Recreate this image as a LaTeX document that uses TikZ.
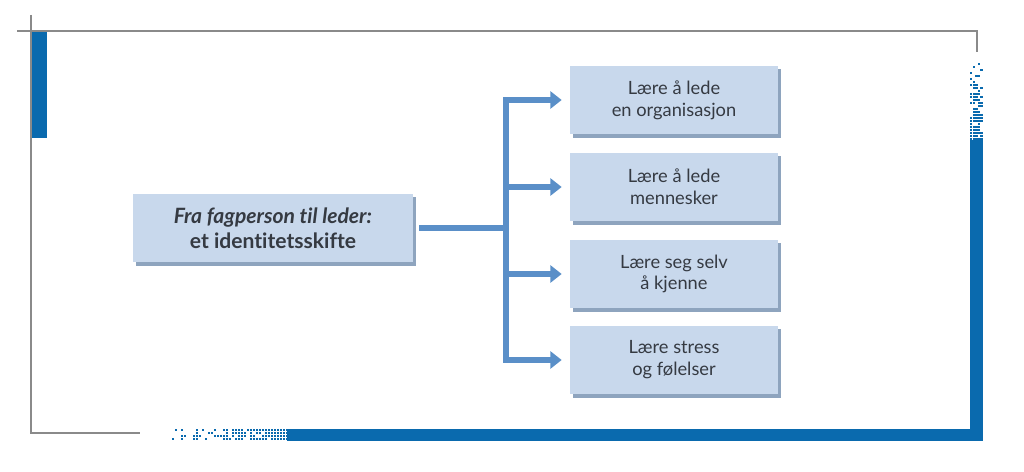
\documentclass[tikz,border=0pt]{standalone}
\usepackage{fontspec}
\setmainfont{Lato}[Ligatures=NoCommon]
\usetikzlibrary{arrows.meta,calc,shadows}
\definecolor{boxfill}{HTML}{C8D8EC}
\definecolor{boxshade}{HTML}{8EA4BE}
\definecolor{linkblue}{HTML}{5A8FC8}
\definecolor{frameblue}{HTML}{0A6AAE}
\definecolor{framegray}{HTML}{8A8A8A}
\definecolor{textgray}{HTML}{353A42}
\tikzset{
  boks/.style={fill=boxfill, minimum height=1.72cm, align=center, text=textgray,
    font=\fontsize{13}{15.5}\selectfont, inner sep=0pt,
    drop shadow={shadow xshift=0.08cm, shadow yshift=-0.08cm, fill=boxshade, opacity=1}},
  smal/.style={boks, minimum width=5.2cm},
  brei/.style={boks, minimum width=7.0cm, font=\fontsize{15}{18}\selectfont\bfseries},
  link/.style={draw=linkblue, line width=4.4pt, line join=miter, shorten >=0.2cm,
    -{Triangle[length=0.28cm,width=0.42cm]}},
  ramme/.style={draw=framegray, line width=1.1pt},
}
\begin{document}
\begin{tikzpicture}[x=0.025cm,y=-0.025cm]
  \useasboundingbox (0,0) rectangle (1024,472);
  \draw[ramme] (17,31) -- (977,31) -- (977,52);
  \draw[ramme] (31,15) -- (31,433) -- (140,433);
  \fill[frameblue] (32,32) rectangle (47,138);
  \fill[frameblue] (970,140) rectangle (983,441);
  \fill[frameblue] (287,429) rectangle (983,441);
  \pgfmathsetseed{11}
  \foreach \u in {0,...,4}{
    \foreach \v in {0,...,26}{
      \pgfmathsetmacro\p{(\v/26)^0.9}
      \pgfmathtruncatemacro\hit{rnd<\p}
      \ifnum\hit=1 \fill[frameblue] (970+\u*2.6,60+\v*3) rectangle ++(2.4,2.4);\fi
    }}
  \foreach \u in {0,...,43}{
    \foreach \v in {0,...,3}{
      \pgfmathsetmacro\p{(\u/43)^0.9}
      \pgfmathtruncatemacro\hit{rnd<\p}
      \ifnum\hit=1 \fill[frameblue] (157+\u*3,429+\v*3) rectangle ++(2.4,2.4);\fi
    }}
  \node[brei] (src) at (273,228) {\textit{Fra fagperson til leder:}\\et identitetsskifte};
  \node[smal] (t1) at (674,100) {Lære å lede\\en organisasjon};
  \node[smal] (t2) at (674,187) {Lære å lede\\mennesker};
  \node[smal] (t3) at (674,274) {Lære seg selv\\å kjenne};
  \node[smal] (t4) at (674,360) {Lære stress\\og følelser};
  \coordinate (bus) at (506,228);
  \draw[link,-,shorten >=-2.2pt] ([xshift=0.15cm]src.east) -- (bus);
  \draw[link] (bus) |- (t1.west);
  \draw[link] (bus) |- (t2.west);
  \draw[link] (bus) |- (t3.west);
  \draw[link] (bus) |- (t4.west);
\end{tikzpicture}
\end{document}
